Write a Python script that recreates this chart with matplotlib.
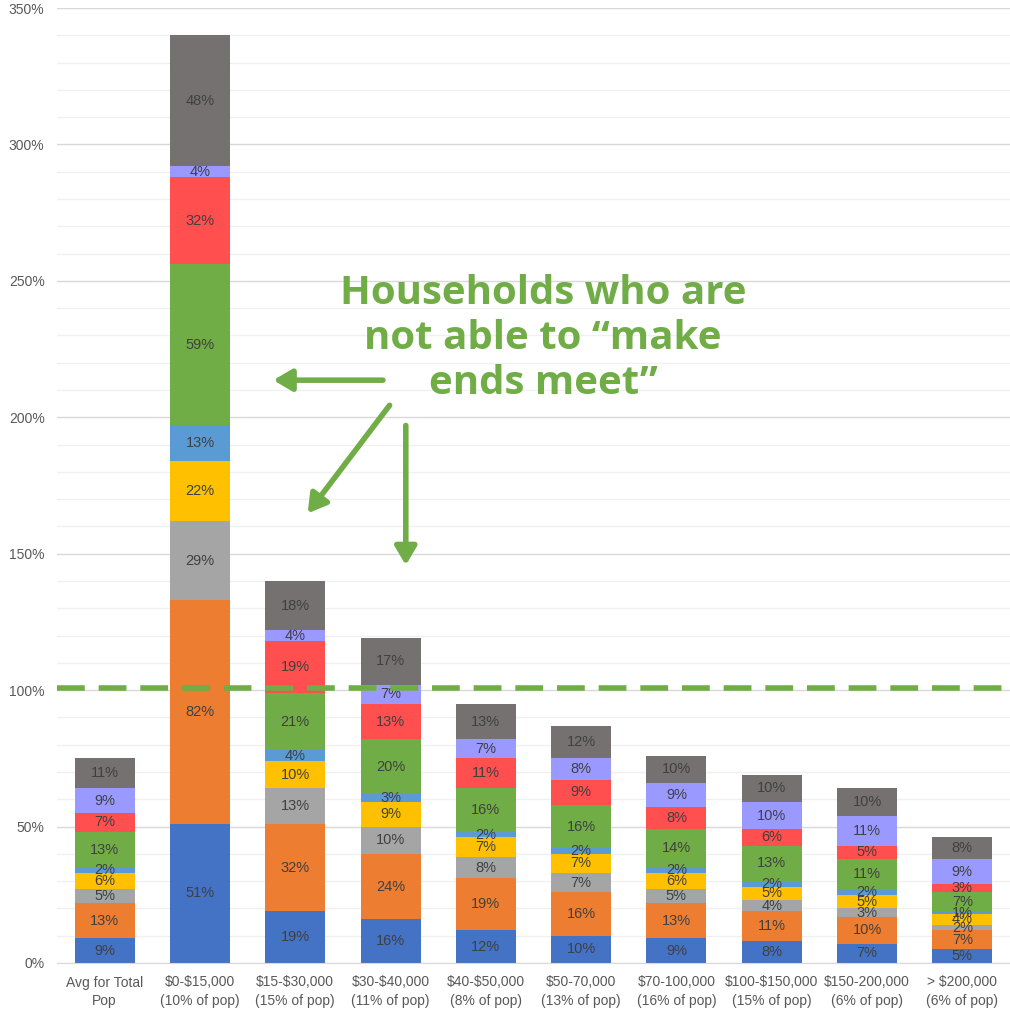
import matplotlib.pyplot as plt
import numpy as np
from matplotlib.ticker import MultipleLocator, FuncFormatter

# ----------------------------
# Data
# ----------------------------

categories = [
    "Avg for Total\nPop",
    "$0-$15,000\n(10% of pop)",
    "$15-$30,000\n(15% of pop)",
    "$30-$40,000\n(11% of pop)",
    "$40-$50,000\n(8% of pop)",
    "$50-70,000\n(13% of pop)",
    "$70-100,000\n(16% of pop)",
    "$100-$150,000\n(15% of pop)",
    "$150-200,000\n(6% of pop)",
    "> $200,000\n(6% of pop)",
]

# stacked segments, bottom to top
seg1 = [9, 51, 19, 16, 12, 10, 9, 8, 7, 5]
seg2 = [13, 82, 32, 24, 19, 16, 13, 11, 10, 7]
seg3 = [5, 29, 13, 10, 8, 7, 5, 4, 3, 2]
seg4 = [6, 22, 10, 9, 7, 7, 6, 5, 5, 4]
seg5 = [2, 13, 4, 3, 2, 2, 2, 2, 2, 1]
seg6 = [13, 59, 21, 20, 16, 16, 14, 13, 11, 7]
seg7 = [7, 32, 19, 13, 11, 9, 8, 6, 5, 3]
seg8 = [9, 4, 4, 7, 7, 8, 9, 10, 11, 9]
seg9 = [11, 48, 18, 17, 13, 12, 10, 10, 10, 8]

segments = [seg1, seg2, seg3, seg4, seg5, seg6, seg7, seg8, seg9]
colors = ["#4472C4", "#ED7D31", "#A5A5A5", "#FFC000", "#5B9BD5",
          "#70AD47", "#FF4F4F", "#9999FF", "#767171"]

threshold = 100.8

annotation = "Households who are\nnot able to \u201cmake\nends meet\u201d"

# ----------------------------
# Plot
# ----------------------------

plt.rcParams["font.family"] = ["Liberation Sans", "DejaVu Sans"]
plt.rcParams["text.parse_math"] = False

fig = plt.figure(figsize=(10.10, 10.15), dpi=100)
ax = fig.add_axes([57 / 1010, 1 - 963 / 1015, 953 / 1010, 955 / 1015])

x = np.arange(len(categories))
bottom = np.zeros(len(categories))
for vals, col in zip(segments, colors):
    vals = np.array(vals, dtype=float)
    ax.bar(x, vals, 0.63, bottom=bottom, color=col, zorder=2)
    for xi, b, v in zip(x, bottom, vals):
        ax.text(xi, b + v / 2, f"{int(v)}%", ha="center", va="center",
                fontsize=10.5, color="#404040", zorder=3)
    bottom += vals

ax.axhline(threshold, color="#70AD47", lw=4, ls=(0, (5, 2.5)), zorder=4)

ax.set_xlim(-0.5, len(categories) - 0.5)
ax.set_ylim(0, 350)
ax.yaxis.set_major_locator(MultipleLocator(50))
ax.yaxis.set_minor_locator(MultipleLocator(10))
ax.yaxis.set_major_formatter(FuncFormatter(lambda v, p: f"{int(v)}%"))
ax.grid(axis="y", which="major", color="#D9D9D9", lw=1, zorder=0)
ax.grid(axis="y", which="minor", color="#F0F0F0", lw=1, zorder=0)
ax.set_axisbelow(True)

ax.set_xticks(x)
ax.set_xticklabels(categories, fontsize=10, color="#595959", linespacing=1.45)
ax.tick_params(axis="y", labelsize=10, labelcolor="#595959", length=0, pad=9)
ax.tick_params(axis="y", which="minor", length=0)
ax.tick_params(axis="x", length=0, pad=9)

for s in ["top", "right", "left"]:
    ax.spines[s].set_visible(False)
ax.spines["bottom"].set_color("#D9D9D9")

# annotation text and arrows
ax.text(4.6, 229, annotation, ha="center", va="center", fontsize=29,
        fontweight="bold", color="#70AD47", family=["Open Sans", "DejaVu Sans"],
        linespacing=1.2, zorder=5)

arrow_kw = dict(arrowstyle="-|>,head_length=1.1,head_width=0.65", color="#70AD47",
                lw=4, shrinkA=0, shrinkB=0)
ax.annotate("", xy=(1.77, 213.6), xytext=(2.92, 213.6), arrowprops=arrow_kw)
ax.annotate("", xy=(2.13, 164.8), xytext=(2.99, 204.4), arrowprops=arrow_kw)
ax.annotate("", xy=(3.16, 145.8), xytext=(3.16, 197), arrowprops=arrow_kw)

fig.savefig("out.png", dpi=100)
